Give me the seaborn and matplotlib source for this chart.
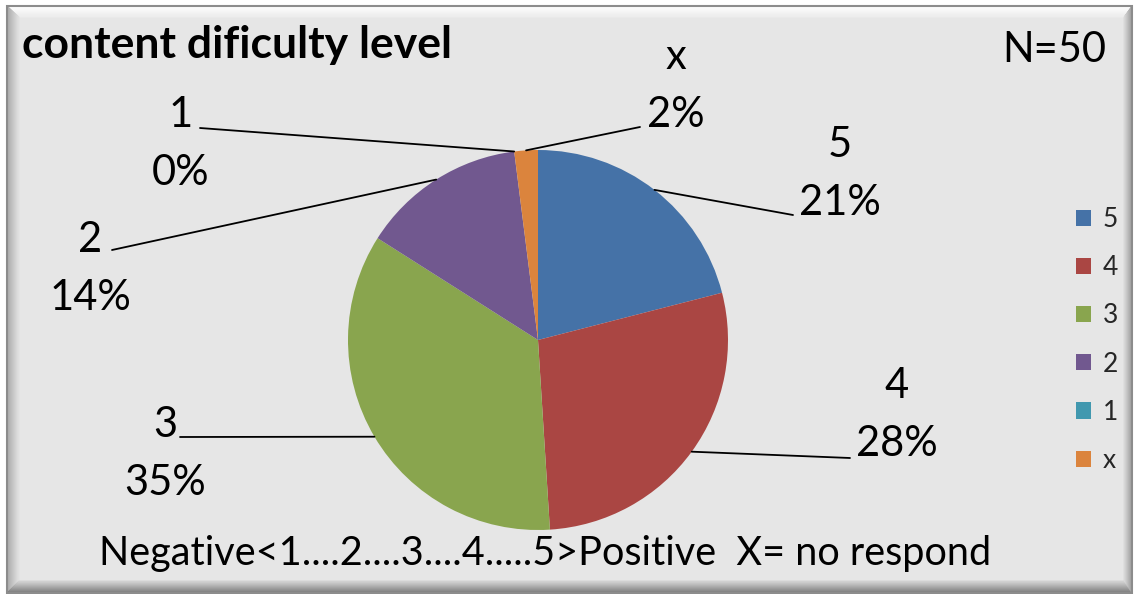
import matplotlib
matplotlib.use("Agg")
import matplotlib.pyplot as plt
from matplotlib.patches import Polygon, Rectangle
import numpy as np
import seaborn as sns

# ---- data -------------------------------------------------------------
categories = ["5", "4", "3", "2", "1", "x"]
percent = [21, 28, 35, 14, 0, 2]
colors = ["#4572A7", "#AA4643", "#89A54E", "#71588F", "#4198AF", "#DB843D"]

title = "content dificulty level"
n_text = "N=50"
scale_note = "Negative<1....2....3....4.....5>Positive  X= no respond"

# ---- layout (pixels) --------------------------------------------------
W, H = 1135, 594
CX, CY, R = 538, 340, 190          # pie centre / radius in pixels
# label centre (name line, percent line) and leader-line end, per slice
label_pos = [(840, 145), (897, 386), (165, 425), (90, 240), (181, 115), (676, 57)]
leader_end = [(793, 215), (850, 458), (180, 437), (112, 250), (200, 128), (640, 127)]
LINE_GAP = 58

sns.set_theme(style="white")
plt.rcParams["font.family"] = ["Lato", "DejaVu Sans"]

fig = plt.figure(figsize=(W / 100, H / 100), dpi=100)
fig.patch.set_facecolor("white")

# ---- bevelled frame ---------------------------------------------------
bg = fig.add_axes([0, 0, 1, 1], zorder=0)
bg.set_xlim(0, W)
bg.set_ylim(H, 0)
bg.axis("off")

ox0, oy0, ox1, oy1 = 7, 6, 1132, 593      # outer edge
ix0, iy0, ix1, iy1 = 19, 17, 1124, 581    # inner face
bg.add_patch(Rectangle((ox0, oy0), ox1 - ox0, oy1 - oy0, facecolor="#e6e6e6",
                       edgecolor="none"))


def bevel(outer, inner, c_out, c_in, steps=12):
    o0, o1 = np.array(outer[0], float), np.array(outer[1], float)
    i0, i1 = np.array(inner[0], float), np.array(inner[1], float)
    co = np.array(matplotlib.colors.to_rgb(c_out))
    ci = np.array(matplotlib.colors.to_rgb(c_in))
    for i in range(steps):
        t0, t1 = i / steps, (i + 1) / steps
        a0 = o0 + (i0 - o0) * t0
        b0 = o1 + (i1 - o1) * t0
        a1 = o0 + (i0 - o0) * t1
        b1 = o1 + (i1 - o1) * t1
        c = co * (1 - t0) + ci * t0
        bg.add_patch(Polygon([a0, b0, b1, a1], closed=True, facecolor=c,
                             edgecolor=c, linewidth=0.6))


# top, left, bottom, right
bevel(((ox0, oy0), (ox1, oy0)), ((ix0, iy0), (ix1, iy0)), "#ffffff", "#ececec")
bevel(((ox0, oy0), (ox0, oy1)), ((ix0, iy0), (ix0, iy1)), "#a8a8a8", "#e4e4e4")
bevel(((ox0, oy1), (ox1, oy1)), ((ix0, iy1), (ix1, iy1)), "#7a7a7a", "#d8d8d8")
bevel(((ox1, oy0), (ox1, oy1)), ((ix1, iy0), (ix1, iy1)), "#9a9a9a", "#dcdcdc")
bg.add_patch(Rectangle((ox0, oy0), ox1 - ox0, oy1 - oy0, facecolor="none",
                       edgecolor="#8c8c8c", linewidth=1.5))

# ---- pie --------------------------------------------------------------
ax = fig.add_axes([0, 0, 1, 1], zorder=1)
ax.patch.set_alpha(0)


def to_data(px, py):
    return (px - CX) / R, (CY - py) / R


wedges, _ = ax.pie(percent, colors=colors, startangle=90, counterclock=False,
                   radius=1, center=(0, 0), wedgeprops=dict(linewidth=0))
ax.set_xlim(-CX / R, (W - CX) / R)
ax.set_ylim((CY - H) / R, CY / R)
ax.set_aspect("auto")
ax.axis("off")

# leader lines and data labels
total = sum(percent)
cum = 0
for cat, val, (lx, ly), (ex, ey) in zip(categories, percent, label_pos, leader_end):
    mid = 90 - (cum + val / 2) / total * 360
    cum += val
    sx, sy = np.cos(np.radians(mid)), np.sin(np.radians(mid))
    exd, eyd = to_data(ex, ey)
    ax.plot([sx, exd], [sy, eyd], color="black", linewidth=1.3, zorder=3)
    ax.text(*to_data(lx, ly), cat, ha="center", va="center", fontsize=30,
            color="black")
    ax.text(*to_data(lx, ly + LINE_GAP), f"{val}%", ha="center", va="center",
            fontsize=30, color="black")

# titles / notes
ax.text(*to_data(22, 45), title, ha="left", va="center", fontsize=32,
        fontweight="bold", color="black")
ax.text(*to_data(1054, 50), n_text, ha="center", va="center", fontsize=30,
        color="black")
ax.text(*to_data(545, 553), scale_note, ha="center", va="center", fontsize=28.5,
        color="black")

# legend
leg = ax.legend(wedges, categories, loc="center left",
                bbox_to_anchor=(1076 / W, 1 - 340 / H),
                bbox_transform=fig.transFigure, frameon=False, fontsize=19,
                handlelength=0.57, handleheight=0.57, handletextpad=0.45,
                labelspacing=0.88, borderpad=0, borderaxespad=0)

fig.savefig("out.png", dpi=100, facecolor=fig.get_facecolor())
